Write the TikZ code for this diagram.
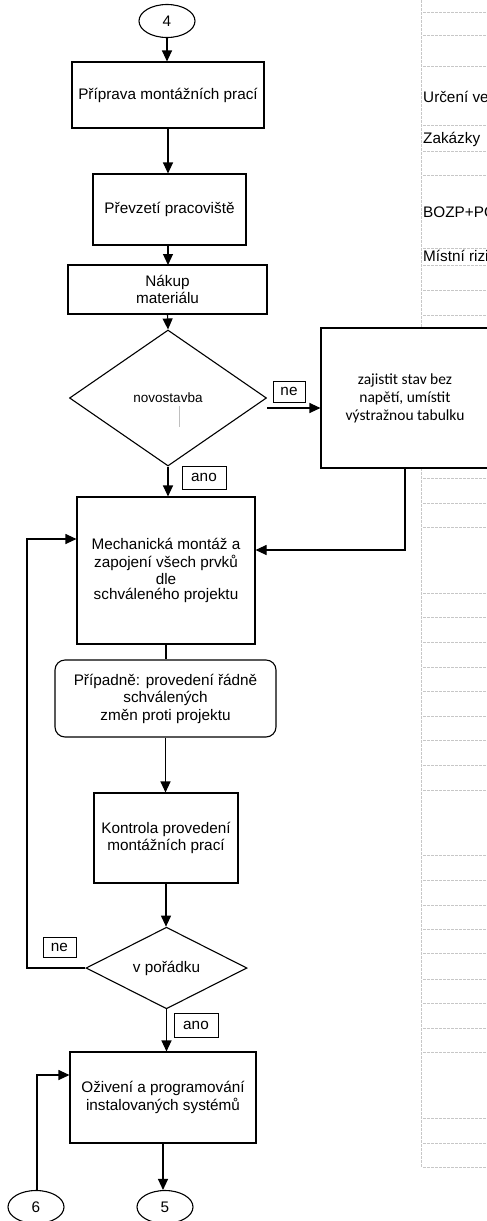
\documentclass[tikz,border=0pt]{standalone}
\usepackage{fontspec}
\setmainfont{Liberation Sans}
\newfontfamily\calibfont{Carlito}
\usetikzlibrary{shapes.geometric,arrows.meta,calc}

\begin{document}
\begin{tikzpicture}[x=1pt,y=-1pt,
  font=\fontsize{15.3}{17.5}\selectfont,
  box/.style={draw=black,line width=1.1pt,fill=white,inner sep=0pt,align=center,rectangle},
  dia/.style={draw=black,line width=1.1pt,fill=white,inner sep=0pt,align=center,diamond},
  term/.style={draw=black,line width=1.1pt,fill=white,inner sep=0pt,ellipse,minimum width=56pt,minimum height=33pt},
  tag/.style={draw=black,line width=1pt,fill=white,inner sep=0pt,rectangle},
  arr/.style={line width=1.1pt,-{Triangle[length=11pt,width=10pt]}},
  plain/.style={line width=1.1pt},
  tline/.style={draw=black!22,line width=0.8pt,dash pattern=on 2.5pt off 1.5pt},
  cell/.style={anchor=west,inner sep=0pt}]

\clip (0,0) rectangle (487,1221);

% side table with dashed grid
\draw[tline] (421.5,0) -- (421.5,1167);
\foreach \yy in {12,35,66,125,151,175,248,265,290,315,478,503,527,593,617,642,667,691,716,740,765,790,855,880,905,929,953,979,1003,1028,1052,1118,1143,1167}
  \draw[tline] (423,\yy) -- (487,\yy);
\node[cell] (c1) at (423,97) {Určení ve};
\node[cell] (c2) at (423,139) {Zakázky};
\node[cell] (c3) at (423,212) {BOZP+PO};
\node[cell] (c4) at (423,256) {Místní rizi};

% flowchart nodes
\node[term] (t4) at (167,21) {4};
\node[box,minimum width=192pt,minimum height=66pt] (prep) at (168,95) {Příprava montážních prací};
\node[box,minimum width=153pt,minimum height=71pt] (site) at (169.5,209.5) {Převzetí pracoviště};
\node[box,minimum width=199pt,minimum height=49pt] (buy) at (167.5,289.5) {Nákup\\materiálu};
\node[dia,minimum width=197pt,minimum height=136pt] (d1) at (168,398) {\fontsize{13.5}{15}\selectfont novostavba};
\draw[black!25,line width=1pt] (179,406) -- (179,427);
\node[box,minimum width=168pt,minimum height=140pt,font=\calibfont\fontsize{15.5}{18}\selectfont] (warn) at (405,398) {zajistit stav bez\\napětí, umístit\\výstražnou tabulku};
\node[box,minimum width=178pt,minimum height=147pt] (mount) at (166,570.5) {Mechanická montáž a\\zapojení všech prvků\\dle\\[-2.5pt]schváleného projektu};
\node[box,rounded corners=10pt,minimum width=221pt,minimum height=77pt] (alt) at (165.5,698.5) {Případně: provedení řádně\\schválených\\změn proti projektu};
\node[box,minimum width=144pt,minimum height=90pt] (check) at (166,838) {Kontrola provedení\\montážních prací};
\node[dia,minimum width=161pt,minimum height=73pt] (d2) at (166.5,968) {v pořádku};
\node[box,minimum width=186pt,minimum height=91pt] (run) at (163,1097.5) {Oživení a programování\\instalovaných systémů};
\node[term] (t5) at (165,1207) {5};
\node[term] (t6) at (36,1207) {6};

% branch labels
\node[tag,minimum width=32pt,minimum height=21pt] (ne1) at (289,391.5) {ne};
\node[tag,minimum width=44pt,minimum height=23pt] (ano1) at (204,477.5) {ano};
\node[tag,minimum width=33pt,minimum height=20pt] (ne2) at (59.5,947) {ne};
\node[tag,minimum width=44pt,minimum height=24pt] (ano2) at (196,1025) {ano};

% connectors
\coordinate (neout) at (267,408);
\coordinate (loopx) at (27,539);
\coordinate (warnret) at (405,550);
\coordinate (sixup) at (37,1075);

\draw[arr] (t4.south) -- (t4.south |- prep.north);
\draw[arr] (prep.south) -- (prep.south |- site.north);
\draw[arr] (168,245) -- (168,265);
\draw[arr] (buy.south) -- (d1.north);
\draw[arr] (neout) -- (neout -| warn.west);
\draw[arr] (d1.south) -- (d1.south |- mount.north);
\draw[arr] (warn.south) -- (warnret) -- (warnret -| mount.east);
\draw[plain] (mount.south) -- (mount.south |- alt.north);
\draw[arr] (alt.south) -- (alt.south |- check.north);
\draw[arr] (check.south) -- (check.south |- d2.north);
\draw[arr] (d2.west) -- (d2.west -| loopx) -- (loopx) -- (loopx -| mount.west);
\draw[arr] (d2.south) -- (d2.south |- run.north);
\draw[arr] (run.south) -- (run.south |- t5.north);
\draw[arr] (t6.north -| sixup) -- (sixup) -- (sixup -| run.west);
\end{tikzpicture}
\end{document}
